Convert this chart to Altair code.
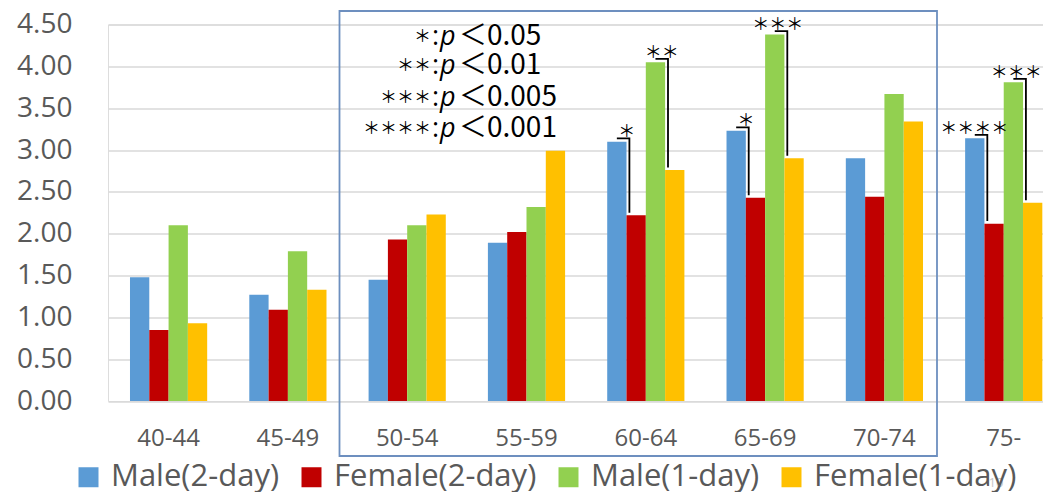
import altair as alt
import pandas as pd

# ---------------- data ----------------
cats = ["40-44", "45-49", "50-54", "55-59", "60-64", "65-69", "70-74", "75-"]
series = ["Male(2-day)", "Female(2-day)", "Male(1-day)", "Female(1-day)"]
colors = ["#5b9bd5", "#c00000", "#92d050", "#ffc000"]

male_2day = [1.48, 1.27, 1.45, 1.89, 3.10, 3.23, 2.90, 3.14]
female_2day = [0.85, 1.09, 1.93, 2.02, 2.22, 2.43, 2.44, 2.12]
male_1day = [2.10, 1.79, 2.10, 2.32, 4.05, 4.38, 3.67, 3.81]
female_1day = [0.93, 1.33, 2.23, 2.99, 2.76, 2.90, 3.34, 2.37]
values = [male_2day, female_2day, male_1day, female_1day]

# significance brackets: category, index of left bar of the compared pair, stars
br_cat = ["60-64", "60-64", "65-69", "65-69", "75-", "75-"]
br_from = [0, 2, 0, 2, 0, 2]
br_stars = ["＊", "＊＊", "＊", "＊＊＊", "＊＊＊＊", "＊＊＊"]

# significance key
key_stars = ["＊", "＊＊", "＊＊＊", "＊＊＊＊"]
key_thr = ["0.05", "0.01", "0.005", "0.001"]
key_y = [4.35, 4.00, 3.62, 3.25]

y_ticks = [0, 0.5, 1.0, 1.5, 2.0, 2.5, 3.0, 3.5, 4.0, 4.5]

# ---------------- layout ----------------
W, H = 935, 376.5
P_IN, P_OUT, ALIGN = 0.353, 0.095, 0.97
step = W / (len(cats) - P_IN + 2 * P_OUT)
bw = step * (1 - P_IN)
TXT = "#595959"

bars = pd.DataFrame(
    [{"cat": c, "series": s, "value": values[j][i]}
     for j, s in enumerate(series) for i, c in enumerate(cats)]
)

line_rows, text_rows = [], []
for k, (c, a, st) in enumerate(zip(br_cat, br_from, br_stars)):
    ci = cats.index(c)
    va, vb = values[a][ci], values[a + 1][ci]
    yh, ye = va + 0.04, vb + 0.03
    b = a + 1
    line_rows += [
        {"id": k, "cat": c, "px": a + 0.5, "py": yh, "o": 0},
        {"id": k, "cat": c, "px": b + 0.15, "py": yh, "o": 1},
        {"id": k, "cat": c, "px": b + 0.15, "py": ye, "o": 2},
    ]
    text_rows.append({"cat": c, "px": b + 0.45 + 0.26 * (len(st) - 1), "py": yh, "t": st})
lines = pd.DataFrame(line_rows)
texts = pd.DataFrame(text_rows)
key = pd.DataFrame({"stars": key_stars, "thr": ["＜" + t for t in key_thr], "y": key_y})

xscale = alt.Scale(domain=cats, paddingInner=P_IN, paddingOuter=P_OUT, align=ALIGN)
yscale = alt.Scale(domain=[0, 4.5], nice=False, zero=True)
offq = alt.Scale(domain=[0, 4], range=[0, bw], nice=False, zero=False)

x_axis = alt.Axis(title=None, labelAngle=0, labelFont="Open Sans", labelFontSize=24,
                  labelColor=TXT, labelPadding=37, labelBaseline="middle",
                  ticks=False, domain=False, grid=False)
y_axis = alt.Axis(title=None, values=y_ticks, format=".2f", labelFont="Open Sans",
                  labelFontSize=28, labelColor=TXT, labelPadding=36, ticks=False,
                  domain=False, grid=True, gridColor="#d9d9d9", gridWidth=1.3)

bar_layer = alt.Chart(bars).mark_bar().encode(
    x=alt.X("cat:N", sort=cats, scale=xscale, axis=x_axis),
    xOffset=alt.XOffset("series:N", sort=series,
                        scale=alt.Scale(domain=series, paddingInner=0, paddingOuter=0)),
    y=alt.Y("value:Q", scale=yscale, axis=y_axis),
    color=alt.Color("series:N", sort=series,
                    scale=alt.Scale(domain=series, range=colors),
                    legend=alt.Legend(orient="none", legendX=-35, legendY=437,
                                      direction="horizontal", title=None,
                                      symbolType="square", symbolSize=400,
                                      symbolStrokeWidth=0, labelFont="Open Sans",
                                      labelFontSize=31, labelColor=TXT,
                                      columnPadding=16, labelOffset=7, padding=0,
                                      labelLimit=400)),
)

bracket_layer = alt.Chart(lines).mark_line(color="black", strokeWidth=1.8).encode(
    x=alt.X("cat:N", sort=cats, scale=xscale, bandPosition=0),
    xOffset=alt.XOffset("px:Q", scale=offq),
    y=alt.Y("py:Q", scale=yscale),
    detail="id:N",
    order="o:Q",
)

star_layer = alt.Chart(texts).mark_text(
    align="right", baseline="middle", dy=-6, font="Noto Sans CJK JP",
    fontSize=17, color="black"
).encode(
    x=alt.X("cat:N", sort=cats, scale=xscale, bandPosition=0),
    xOffset=alt.XOffset("px:Q", scale=offq),
    y=alt.Y("py:Q", scale=yscale),
    text="t:N",
)

key_base = alt.Chart(key)
key_stars_l = key_base.mark_text(align="right", baseline="middle", font="Noto Sans CJK JP",
                                 fontSize=17, color="black").encode(
    x=alt.value(323), y=alt.Y("y:Q", scale=yscale), text="stars:N")
key_colon = key_base.mark_text(align="left", baseline="middle", font="Open Sans",
                               fontSize=27, color="black").encode(
    x=alt.value(324), y=alt.Y("y:Q", scale=yscale), text=alt.value(":"))
key_p = key_base.mark_text(align="left", baseline="middle", font="Open Sans",
                           fontSize=27, fontStyle="italic", color="black").encode(
    x=alt.value(332), y=alt.Y("y:Q", scale=yscale), text=alt.value("p"))
key_thr_l = key_base.mark_text(align="left", baseline="middle", font="Noto Sans CJK JP",
                               fontSize=28, color="black").encode(
    x=alt.value(351), y=alt.Y("y:Q", scale=yscale), text="thr:N")

box = alt.Chart(alt.Data(values=[{"k": 1}])).mark_rect(
    fillOpacity=0, stroke="#6d8fbf", strokeWidth=1.8
).encode(x=alt.value(231.5), x2=alt.value(829), y=alt.value(-13.5), y2=alt.value(431.5))

page_no = alt.Chart(alt.Data(values=[{"t": "10"}])).mark_text(
    font="Open Sans", fontSize=13, color="#c8c8c8"
).encode(x=alt.value(888), y=alt.value(458), text="t:N")

chart = alt.layer(
    bar_layer, bracket_layer, star_layer, key_stars_l, key_colon, key_p, key_thr_l, box, page_no
).resolve_scale(xOffset="independent").properties(
    width=W, height=H,
    autosize=alt.AutoSizeParams(type="none"),
    padding={"left": 100, "top": 16.5, "right": 0, "bottom": 91},
).configure_view(stroke=None).configure(background="white")

chart.save("out.html", embed_options={"renderer": "svg", "actions": False})
